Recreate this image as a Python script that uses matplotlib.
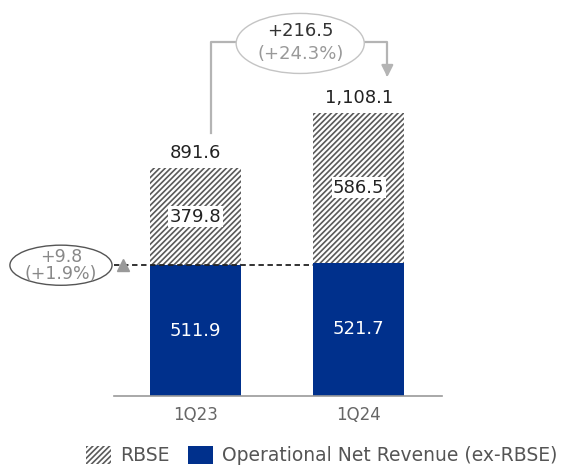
import matplotlib
matplotlib.use('Agg')
import matplotlib.pyplot as plt
from matplotlib.patches import Ellipse, Patch

# %% Data
periods = ['1Q23', '1Q24']
net_rev_ex_rbse = [511.9, 521.7]
rbse = [379.8, 586.5]
totals = [891.6, 1108.1]
total_delta = '+216.5'
total_delta_pct = '(+24.3%)'
base_delta = '+9.8'
base_delta_pct = '(+1.9%)'

blue = '#00308c'
grey_line = '#b4b4b4'
hatch_col = '#5a5a5a'

plt.rcParams['font.family'] = 'DejaVu Sans'
plt.rcParams['hatch.linewidth'] = 1.2
plt.rcParams['hatch.color'] = hatch_col

# %% Figure
fig = plt.figure(figsize=(5.63, 4.67), dpi=100)
ax = fig.add_axes([0.2025, 0.152, 0.5826, 0.848])

x = range(len(periods))
w = 0.56
ax.bar(x, net_rev_ex_rbse, width=w, color=blue, zorder=2)
ax.bar(x, rbse, width=w, bottom=net_rev_ex_rbse, color='white',
       hatch='//////', edgecolor=hatch_col, linewidth=0, zorder=2)

for i in x:
    ax.text(i, net_rev_ex_rbse[i] / 2, f'{net_rev_ex_rbse[i]:.1f}',
            ha='center', va='center', color='white', fontsize=13, zorder=4)
    ax.text(i, net_rev_ex_rbse[i] + rbse[i] / 2, f'{rbse[i]:.1f}',
            ha='center', va='center', color='#222222', fontsize=13, zorder=4,
            bbox=dict(boxstyle='square,pad=0.08', fc='white', ec='none'))
    ax.text(i, totals[i] + 25, f'{totals[i]:,.1f}', ha='center', va='bottom',
            color='#222222', fontsize=13, zorder=4)

ax.set_xlim(-0.5, 1.51)
ax.set_ylim(0, 1550)
ax.set_xticks(list(x))
ax.set_xticklabels(periods, fontsize=12, color='#666666')
ax.tick_params(axis='x', length=0, pad=7)
ax.set_yticks([])
for s in ['top', 'left', 'right']:
    ax.spines[s].set_visible(False)
ax.spines['bottom'].set_color('#9a9a9a')
ax.spines['bottom'].set_linewidth(1.2)

# dashed reference at the 1Q23 base level
ax.plot([-0.5, 1 - w / 2], [net_rev_ex_rbse[0]] * 2, color='#222222',
        lw=1.3, dashes=(3, 2), zorder=3, clip_on=False)
ax.plot([-0.445], [net_rev_ex_rbse[0]], marker='^', color='#999999',
        markersize=8, clip_on=False, zorder=3)

# left ellipse (+9.8)
ax.add_patch(Ellipse((-0.825, net_rev_ex_rbse[0]), 0.626, 157, fc='white',
                     ec='#555555', lw=1.0, clip_on=False, zorder=3))
ax.text(-0.825, net_rev_ex_rbse[0] + 32, base_delta, ha='center', va='center',
        color='#888888', fontsize=12.5, zorder=4)
ax.text(-0.825, net_rev_ex_rbse[0] - 33, base_delta_pct, ha='center',
        va='center', color='#888888', fontsize=12.5, zorder=4)

# bracket between the totals
top_y = 1385
ax.plot([0.095, 0.095, 0.25], [totals[0] + 138, top_y, top_y],
        color=grey_line, lw=1.6, clip_on=False, zorder=1)
ax.annotate('', xy=(1.175, totals[1] + 140), xytext=(1.03, top_y),
            arrowprops=dict(arrowstyle='-|>,head_length=0.7,head_width=0.35',
                            connectionstyle='angle,angleA=0,angleB=90,rad=0',
                            color=grey_line, lw=1.6, shrinkA=0, shrinkB=0),
            annotation_clip=False)
ax.add_patch(Ellipse((0.641, top_y - 5), 0.785, 235, fc='white',
                     ec='#c4c4c4', lw=1.0, clip_on=False, zorder=3))
ax.text(0.641, top_y + 42, total_delta, ha='center', va='center',
        color='#333333', fontsize=13, zorder=4)
ax.text(0.641, top_y - 45, total_delta_pct, ha='center', va='center',
        color='#999999', fontsize=13, zorder=4)

# %% Legend
handles = [Patch(facecolor='white', hatch='//////', edgecolor=hatch_col,
                 linewidth=0, label='RBSE'),
           Patch(facecolor=blue, label='Operational Net Revenue (ex-RBSE)')]
fig.legend(handles=handles, loc='center', bbox_to_anchor=(0.572, 0.025),
           ncol=2, frameon=False, fontsize=13.5, handlelength=1.3,
           handleheight=1.1, handletextpad=0.5, columnspacing=1.0,
           labelcolor='#555555')

fig.savefig('out.png', dpi=100)
